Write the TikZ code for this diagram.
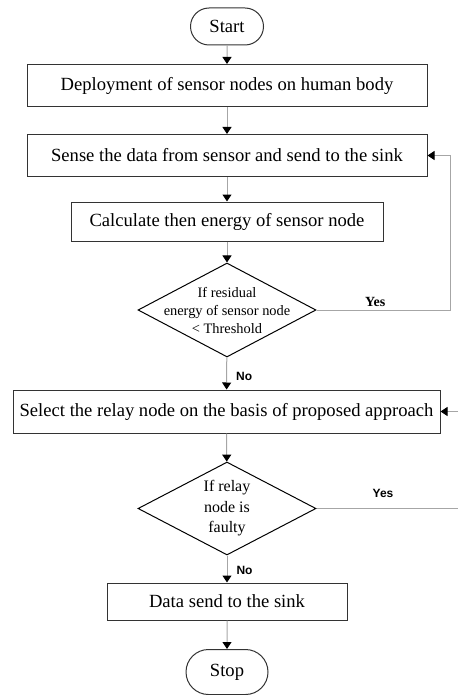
\documentclass[tikz,border=0pt]{standalone}
\usepackage{fontspec}
\setmainfont{Liberation Serif}
\setsansfont{Liberation Sans}
\usetikzlibrary{shapes.geometric,shapes.misc,arrows.meta}

\tikzset{
  process/.style={draw=black!80, line width=1pt, rectangle, inner sep=0pt,
    font=\fontsize{18.6}{22}\selectfont},
  terminal/.style={draw=black!80, line width=1pt, rounded rectangle, inner sep=0pt,
    font=\fontsize{18.6}{22}\selectfont},
  decision/.style={draw=black, line width=1pt, diamond, minimum width=178pt,
    minimum height=94pt, inner sep=-25pt, align=center},
  flow/.style={draw=black!35, line width=1pt,
    -{Triangle[length=7pt,width=9pt,color=black]}},
  link/.style={draw=black!35, line width=1pt},
  answer/.style={font=\sffamily\bfseries\fontsize{12}{14}\selectfont, inner sep=0pt}
}

\begin{document}
\begin{tikzpicture}[x=1pt,y=-1pt]
  \useasboundingbox (0,0) rectangle (458,695);

  \node[terminal, minimum width=73pt, minimum height=37pt] (start) at (227,26.5) {Start};
  \node[process, minimum width=400pt, minimum height=42pt] (deploy) at (227,85.5)
    {Deployment of sensor nodes on human body};
  \node[process, minimum width=400pt, minimum height=42pt] (sense) at (227,155.5)
    {Sense the data from sensor and send to the sink};
  \node[process, minimum width=312pt, minimum height=39pt] (calc) at (227,221.5)
    {Calculate then energy of sensor node};
  \node[decision, font=\fontsize{14.4}{18}\selectfont] (check) at (227,310)
    {If residual\\energy of sensor node\\< Threshold};
  \node[process, minimum width=427pt, minimum height=43pt] (select) at (226.5,411.5)
    {Select the relay node on the basis of proposed approach};
  \node[decision, minimum height=93pt, font=\fontsize{16}{20.5}\selectfont] (fault) at (227,508.5)
    {If relay\\node is\\faulty};
  \node[process, minimum width=240pt, minimum height=37pt] (send) at (227,601.5)
    {Data send to the sink};
  \node[terminal, minimum width=82pt, minimum height=45pt] (stop) at (227,672) {Stop};

  \coordinate (loop) at (450,155.5);
  \coordinate (relayin) at (458,411.5);
  \coordinate (faultout) at (458,508.5);

  % main line
  \draw[flow] (start) -- (deploy);
  \draw[flow] (deploy) -- (sense);
  \draw[flow] (sense) -- (calc);
  \draw[flow] (calc) -- (check);
  \draw[flow] (check) -- node[answer, pos=0.6, right=9pt] {No} (select);
  \draw[flow] (select) -- (fault);
  \draw[flow] (fault) -- node[answer, pos=0.54, right=9pt] {No} (send);
  \draw[flow] (send) -- (stop);

  % branches
  \draw[flow] (check.east) -| node[pos=0.22, above=3pt, inner sep=0pt,
    font=\bfseries\fontsize{14}{16}\selectfont] {Yes} (loop) -- (sense.east);
  \draw[flow] (relayin) -- (select.east);
  \draw[link] (fault.east) -- node[answer, pos=0.47, above=10pt] {Yes} (faultout);
\end{tikzpicture}
\end{document}
